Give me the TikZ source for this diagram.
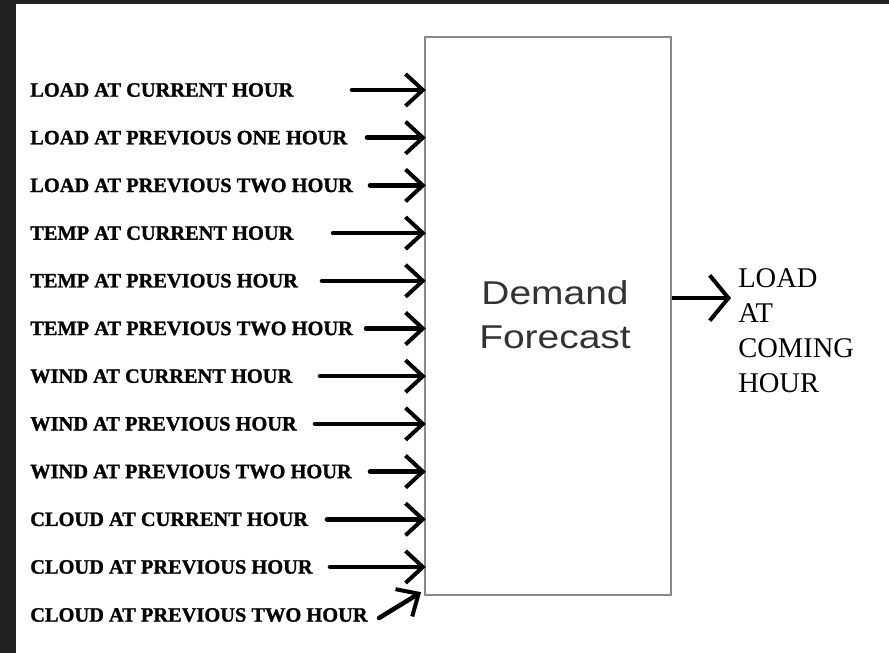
\documentclass[tikz,border=0pt]{standalone}
\usepackage{fontspec}
\setmainfont{Liberation Serif}[BoldFeatures={FakeBold=1.2}]
\setsansfont{Liberation Sans}
\usetikzlibrary{arrows.meta}
\definecolor{framedark}{HTML}{222222}
\definecolor{boxgray}{HTML}{8A8A8A}
\definecolor{textgray}{HTML}{333333}
\tikzset{
  inlabel/.style={anchor=west, inner sep=0pt, text=black,
    font=\bfseries\fontsize{15.3}{18}\selectfont},
  feed/.style={line width=3.4pt, line cap=round,
    -{Straight Barb[length=13pt,width=24pt,line width=3pt]}},
  feedout/.style={line width=3.4pt,
    -{Straight Barb[length=14pt,width=34pt,line width=3pt]}},
  blockbox/.style={draw=boxgray, line width=1.8pt, fill=white,
    minimum width=184.5pt, minimum height=418.5pt, inner sep=0pt},
  blocktext/.style={anchor=north, inner sep=0pt, align=center, text=textgray,
    xscale=1.18, font=\sffamily\fontsize{24.75}{33}\selectfont},
  outlabel/.style={anchor=north west, inner sep=0pt, align=left, text=black,
    font=\fontsize{21.4}{26.25}\selectfont}
}
\begin{document}
\begin{tikzpicture}[x=0.75pt, y=-0.75pt]
\useasboundingbox (0,0) rectangle (889,653);
\fill[white] (0,0) rectangle (889,653);
\fill[framedark] (0,0) rectangle (889,4);
\fill[framedark] (0,0) rectangle (16,653);

\node[blockbox] (box) at (548,316) {};
\node[blocktext] (btext) at (555,280) {Demand\\Forecast};

\foreach \i/\t/\sx in {
  1/LOAD AT CURRENT HOUR/352,
  2/LOAD AT PREVIOUS ONE HOUR/367,
  3/LOAD AT PREVIOUS TWO HOUR/370,
  4/TEMP AT CURRENT HOUR/333,
  5/TEMP AT PREVIOUS HOUR/322,
  6/TEMP AT PREVIOUS TWO HOUR/366,
  7/WIND AT CURRENT HOUR/320,
  8/WIND AT PREVIOUS HOUR/315,
  9/WIND AT PREVIOUS TWO HOUR/370,
  10/CLOUD AT CURRENT HOUR/327,
  11/CLOUD AT PREVIOUS HOUR/330}{
  \pgfmathsetmacro\yy{90+47.7*(\i-1)}
  \node[inlabel] (l\i) at (30,\yy) {\t};
  \coordinate (s\i) at (\sx,\yy);
  \draw[feed] (s\i) -- ([xshift=1.5pt]s\i -| box.west);
}
\node[inlabel] (l12) at (30,615) {CLOUD AT PREVIOUS TWO HOUR};
\coordinate (s12) at (379,618);
\draw[feed] (s12) -- ([xshift=-2pt,yshift=3pt]box.south west);

\node[outlabel] (out) at (738,268) {LOAD\\AT\\COMING\\HOUR};
\coordinate (o) at (731,298);
\draw[feedout] (box.east |- o) -- (o);
\end{tikzpicture}
\end{document}
